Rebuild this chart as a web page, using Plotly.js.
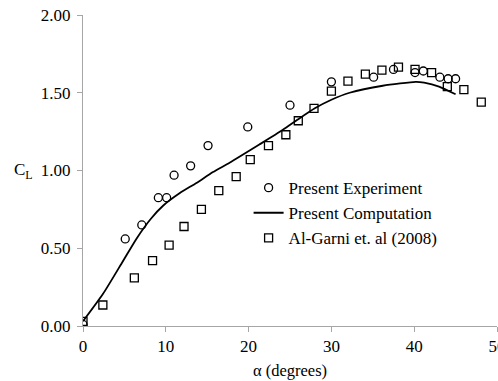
<!DOCTYPE html>
<html>
<head>
<meta charset="utf-8">
<script src="https://cdn.plot.ly/plotly-3.0.1.min.js"></script>
<style>html,body{margin:0;padding:0;background:#fff;}#chart{width:498px;height:381px;}</style>
</head>
<body>
<div id="chart"></div>
<script>
const expAlpha = [0, 5.1, 7.1, 9.1, 10.1, 11.0, 13.0, 15.1, 19.9, 25.0, 30.0, 35.1, 37.5, 40.1, 41.1, 43.1, 44.1, 45.0];
const expCL    = [0.01, 0.56, 0.65, 0.825, 0.825, 0.97, 1.03, 1.16, 1.28, 1.42, 1.57, 1.60, 1.65, 1.63, 1.64, 1.60, 1.59, 1.59];

const compAlpha = [0, 2.4, 4.8, 6.5, 8.2, 9.7, 11.7, 13.7, 15.7, 17.7, 21.3, 24.1, 26.0, 28.0, 30.0, 32.2, 36.2, 40.2, 41.2, 43.0, 45.0];
const compCL    = [0.03, 0.205, 0.415, 0.565, 0.69, 0.775, 0.855, 0.92, 0.99, 1.05, 1.167, 1.26, 1.33, 1.40, 1.455, 1.50, 1.545, 1.57, 1.565, 1.54, 1.49];

const garniAlpha = [0, 2.4, 6.2, 8.4, 10.4, 12.2, 14.3, 16.4, 18.5, 20.2, 22.4, 24.5, 26.0, 27.9, 30.0, 32.0, 34.1, 36.1, 38.1, 40.1, 42.1, 44.0, 46.0, 48.1];
const garniCL    = [0.03, 0.135, 0.31, 0.42, 0.52, 0.64, 0.75, 0.87, 0.96, 1.07, 1.16, 1.23, 1.32, 1.40, 1.51, 1.575, 1.62, 1.645, 1.665, 1.65, 1.63, 1.54, 1.52, 1.44];

const xTicks = [0, 10, 20, 30, 40, 50];
const yTicks = [0, 0.5, 1.0, 1.5, 2.0];
const yTickText = ['0.00', '0.50', '1.00', '1.50', '2.00'];

const font = 'Liberation Serif';

const traces = [
  {x: expAlpha, y: expCL, mode: 'markers', type: 'scatter', name: 'Present Experiment',
   marker: {symbol: 'circle-open', size: 8, color: '#000', line: {width: 1.3, color: '#000'}}},
  {x: compAlpha, y: compCL, mode: 'lines', type: 'scatter', name: 'Present Computation',
   line: {color: '#000', width: 1.8, shape: 'spline', smoothing: 0.6}},
  {x: garniAlpha, y: garniCL, mode: 'markers', type: 'scatter', name: 'Al-Garni et. al (2008)',
   marker: {symbol: 'square-open', size: 8, color: '#000', line: {width: 1.3, color: '#000'}}}
];

const layout = {
  width: 498, height: 381,
  margin: {l: 83, r: 1, t: 15, b: 55},
  paper_bgcolor: '#fff', plot_bgcolor: '#fff',
  font: {family: font, size: 17, color: '#000'},
  showlegend: true,
  legend: {x: 0.40, y: 0.363, xanchor: 'left', yanchor: 'middle', bgcolor: 'rgba(0,0,0,0)',
           font: {family: font, size: 17, color: '#000'}, tracegroupgap: 0},
  xaxis: {range: [0, 50], tickvals: xTicks, ticktext: xTicks.map(String),
          showgrid: false, zeroline: false, showline: true, linecolor: '#a6a6a6', linewidth: 1,
          ticks: 'outside', ticklen: 5, tickcolor: '#a6a6a6', ticklabeloverflow: 'allow',
          tickfont: {family: font, size: 17, color: '#000'},
          title: {text: 'α (degrees)', font: {family: font, size: 16.5, color: '#000'}, standoff: 9}},
  yaxis: {range: [0, 2], tickvals: yTicks, ticktext: yTickText,
          showgrid: false, zeroline: false, showline: true, linecolor: '#a6a6a6', linewidth: 1,
          ticks: 'outside', ticklen: 5, tickcolor: '#a6a6a6', ticklabelstandoff: 3,
          tickfont: {family: font, size: 17, color: '#000'}},
  annotations: [{text: 'C<sub>L</sub>', xref: 'paper', yref: 'y', x: 0, y: 1.0, xanchor: 'right', xshift: -48,
                 showarrow: false, font: {family: font, size: 17, color: '#000'}}]
};

Plotly.newPlot('chart', traces, layout, {displayModeBar: false, staticPlot: true});
</script>
</body>
</html>
